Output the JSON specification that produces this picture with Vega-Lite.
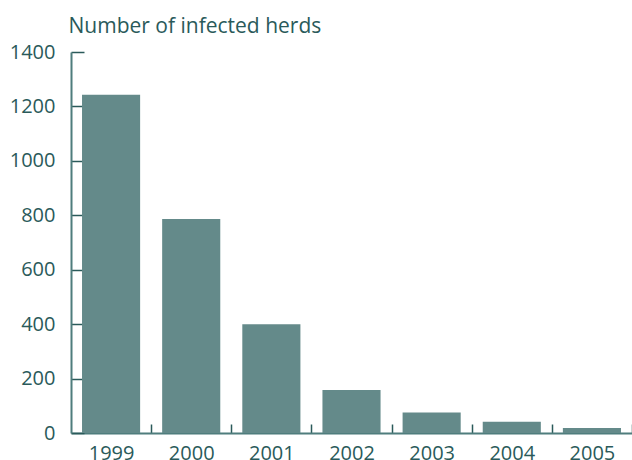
{
  "$schema": "https://vega.github.io/schema/vega-lite/v6.json",
  "autosize": "none",
  "width": 561,
  "height": 381,
  "padding": {"left": 71, "top": 52, "right": 0, "bottom": 27},
  "background": "white",
  "config": {"view": {"stroke": null}, "font": "Open Sans"},
  "data": {"values": [
    {"year": "1999", "herds": 1243},
    {"year": "2000", "herds": 786},
    {"year": "2001", "herds": 400},
    {"year": "2002", "herds": 158},
    {"year": "2003", "herds": 75},
    {"year": "2004", "herds": 41},
    {"year": "2005", "herds": 18}
  ]},
  "mark": {"type": "bar", "color": "#648a8a"},
  "encoding": {
    "x": {
      "field": "year", "type": "ordinal",
      "scale": {"paddingInner": 0.275, "paddingOuter": 0.1375},
      "axis": {
        "title": null, "labelAngle": 0, "tickBand": "center",
        "tickOffset": 40, "labelOffset": -40,
        "tickSize": -9, "tickColor": "#2a5a5a", "tickWidth": 1.5,
        "domainColor": "#4f7d7d", "domainWidth": 2,
        "labelFont": "Open Sans", "labelFontSize": 20, "labelColor": "#2a5a5a",
        "labelPadding": 19
      }
    },
    "y": {
      "field": "herds", "type": "quantitative",
      "scale": {"domain": [0, 1400], "nice": false},
      "axis": {
        "values": [0, 200, 400, 600, 800, 1000, 1200, 1400],
        "format": "d",
        "grid": false,
        "tickSize": -13, "tickColor": "#2a5a5a", "tickWidth": 1.5,
        "domainColor": "#4f7d7d", "domainWidth": 2,
        "labelFont": "Open Sans", "labelFontSize": 20, "labelColor": "#2a5a5a",
        "labelPadding": 29,
        "title": "Number of infected herds",
        "titleFont": "Open Sans", "titleFontSize": 21, "titleFontWeight": "normal",
        "titleColor": "#2a5a5a", "titleAngle": 0, "titleAlign": "left",
        "titleBaseline": "alphabetic", "titleX": -3, "titleY": -20
      }
    }
  }
}
